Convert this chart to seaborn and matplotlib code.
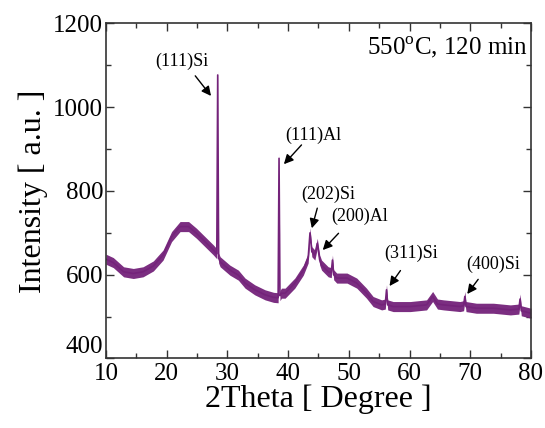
import matplotlib
matplotlib.use("Agg")
import matplotlib.pyplot as plt
from matplotlib.ticker import MultipleLocator
import seaborn as sns
import pandas as pd
import numpy as np

# ---- data ----
two_theta = [10, 11.2, 12.9, 14.5, 16.1, 17.8, 19.4, 20.8, 22.2, 23.6, 24.9, 26.3,
             27.7, 28.25, 28.4, 28.55, 28.8, 30.4, 31.8, 32.9, 34.5, 36.2, 37.6,
             38.35, 38.5, 38.65, 38.9, 39.5, 41.1, 42.5, 43.3, 43.6, 43.9, 44.4,
             44.8, 45.2, 45.5, 46.6, 47.1, 47.3, 47.5, 48.0, 49.7, 51.3, 52.9,
             54.0, 55.4, 56.0, 56.2, 56.4, 57.3, 60.1, 62.8, 63.8, 64.6, 65.6,
             68.3, 68.9, 69.1, 69.3, 71.0, 73.8, 76.6, 78.0, 78.2, 78.4, 80]
intensity = [637, 629, 607, 603, 607, 621, 647, 691, 715, 715, 699, 679,
             659, 650, 1077, 640, 631, 611, 599, 580, 564, 552, 546,
             545, 878, 550, 556, 556, 580, 611, 640, 700, 655, 647,
             675, 635, 623, 607, 605, 635, 600, 592, 592, 580, 556,
             536, 528, 530, 564, 528, 524, 524, 528, 548, 530, 528,
             524, 526, 548, 524, 520, 520, 516, 518, 542, 514, 508]
noise_halfwidth = 12  # half thickness of the noisy band (a.u.)

peak_labels = ["(111)Si", "(111)Al", "(202)Si", "(200)Al", "(311)Si", "(400)Si"]
label_x = [22.5, 44.1, 46.6, 51.8, 60.3, 73.8]
label_y = [1110, 934, 793, 740, 650, 626]
arrow_from_x = [24.7, 42.2, 44.8, 48.3, 58.5, 71.3]
arrow_from_y = [1075, 910, 759, 699, 610, 589]
arrow_to_x = [27.3, 39.3, 43.9, 45.7, 56.7, 69.5]
arrow_to_y = [1027, 864, 711, 659, 573, 554]

x_ticks = [10, 20, 30, 40, 50, 60, 70, 80]
y_ticks = [400, 600, 800, 1000, 1200]

df = pd.DataFrame({"2Theta": two_theta, "Intensity": intensity})

sns.set_style("ticks")
plt.rcParams["font.family"] = ["Liberation Serif", "DejaVu Serif"]
plt.rcParams["mathtext.fontset"] = "custom"
plt.rcParams["mathtext.rm"] = "Liberation Serif"
plt.rcParams["text.color"] = "black"
plt.rcParams["axes.labelcolor"] = "black"
plt.rcParams["xtick.labelcolor"] = "black"
plt.rcParams["ytick.labelcolor"] = "black"

color = "#74237A"

fig = plt.figure(figsize=(5.45, 4.28), dpi=100)
ax = fig.add_axes([0.1945, 0.1624, 0.7798, 0.7827])

y = np.array(intensity, dtype=float)
ax.fill_between(two_theta, y - noise_halfwidth, y + noise_halfwidth,
                color=color, linewidth=0, alpha=0.95)
sns.lineplot(data=df, x="2Theta", y="Intensity", ax=ax, color=color,
             linewidth=1.2, estimator=None, sort=False)

for lab, lx, ly, fx, fy, tx, ty in zip(peak_labels, label_x, label_y,
                                       arrow_from_x, arrow_from_y,
                                       arrow_to_x, arrow_to_y):
    ax.text(lx, ly, lab, ha="center", va="center", fontsize=13)
    ax.annotate("", xy=(tx, ty), xytext=(fx, fy),
                arrowprops=dict(arrowstyle="-|>", color="black", lw=1.0,
                                mutation_scale=14, shrinkA=0, shrinkB=0))

ax.text(79.5, 1144, "550$^{\\mathrm{o}}$C, 120 min", ha="right", va="center",
        fontsize=18)

ax.set_xlim(10, 80)
ax.set_ylim(400, 1200)
ax.set_xticks(x_ticks)
ax.set_yticks(y_ticks)
ax.xaxis.set_minor_locator(MultipleLocator(5))
ax.yaxis.set_minor_locator(MultipleLocator(100))
ax.tick_params(which="both", direction="in", top=True, right=True,
               width=1.0, color="#333333")
ax.tick_params(which="major", length=6, labelsize=18)
ax.tick_params(axis="x", which="major", pad=3)
ax.tick_params(axis="y", which="major", pad=2)
ax.tick_params(which="minor", length=3.5)
for s in ax.spines.values():
    s.set_linewidth(1.2)
    s.set_color("#333333")

ax.set_xlabel("2Theta [ Degree ]", fontsize=23, labelpad=0)
ax.set_ylabel("Intensity [ a.u. ]", fontsize=23, labelpad=4)

# lift the lowest y label so it clears the "10" below it, as in the reference
fig.canvas.draw()
for lbl in ax.get_yticklabels():
    if lbl.get_text() == "400":
        lbl.set_verticalalignment("bottom")

fig.savefig("out.png", dpi=100)
